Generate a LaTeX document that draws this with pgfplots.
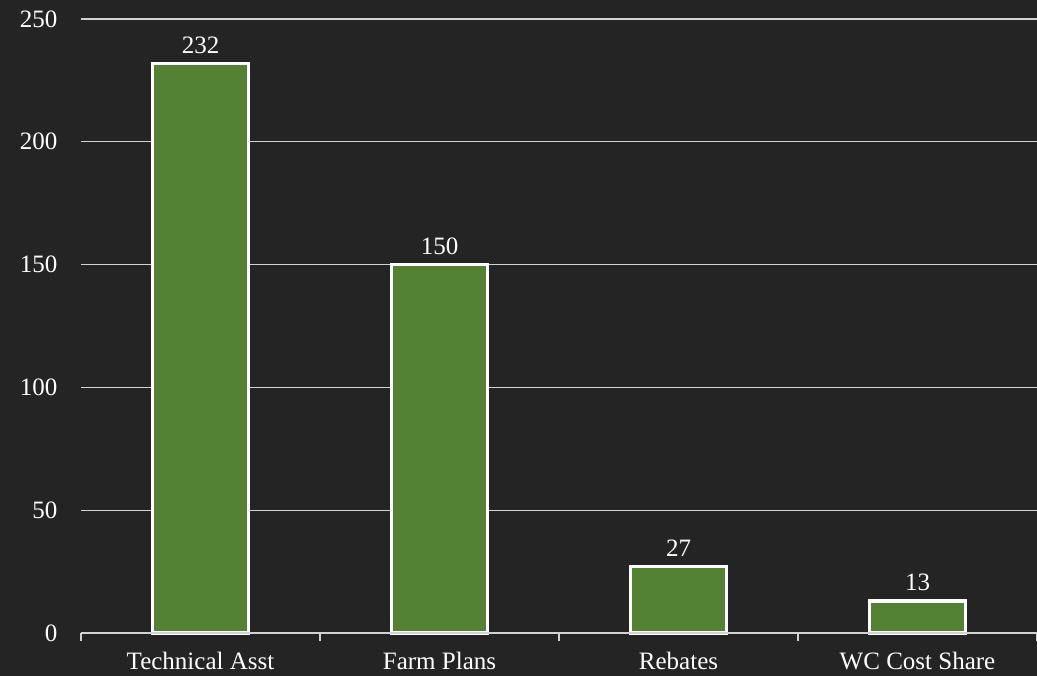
\documentclass[border=0pt]{standalone}
\usepackage{pgfplots}
\pgfplotsset{compat=1.18}
\usepackage{fontspec}
\setmainfont{Liberation Serif}
\definecolor{bg}{RGB}{36,36,36}
\definecolor{barg}{RGB}{84,130,53}
\definecolor{gridc}{RGB}{210,210,210}
\begin{document}
\begin{tikzpicture}[x=1pt,y=1pt]
\fill[bg] (0,0) rectangle (1037,676);
\begin{axis}[
  at={(81pt,43pt)}, anchor=south west,
  scale only axis, width=956pt, height=614pt,
  xmin=-0.5, xmax=3.5, ymin=0, ymax=250,
  axis line style={draw=none},
  ytick={0,50,...,250},
  xmajorgrids=false, ymajorgrids=true,
  major grid style={draw=gridc, line width=1.3pt},
  major tick length=0pt,
  xtick={0,1,2,3},
  xticklabels={Technical Asst, Farm Plans, Rebates, WC Cost Share},
  minor xtick={-0.5,0.5,1.5,2.5,3.5},
  minor tick length=8pt,
  minor tick style={draw=gridc, line width=1.3pt},
  xtick pos=bottom, ytick pos=left,
  tick align=outside,
  ticklabel style={font=\fontsize{25}{29}\selectfont, text=white},
  /pgf/number format/assume math mode=true,
  xticklabel style={yshift=-16pt},
  yticklabel style={xshift=-20pt},
  ybar, bar width=96pt,
  nodes near coords,
  every node near coord/.append style={font=\fontsize{25}{29}\selectfont, text=white, yshift=5pt},
  clip=false,
]
\addplot[fill=barg, draw=white, line width=3.2pt] coordinates {(0,232) (1,150) (2,27) (3,13)};
\draw[gridc, line width=1.3pt] (axis cs:-0.5,0) -- (axis cs:3.5,0);
\end{axis}
\pgfresetboundingbox
\useasboundingbox (0,0) rectangle (1037,676);
\end{tikzpicture}
\end{document}
